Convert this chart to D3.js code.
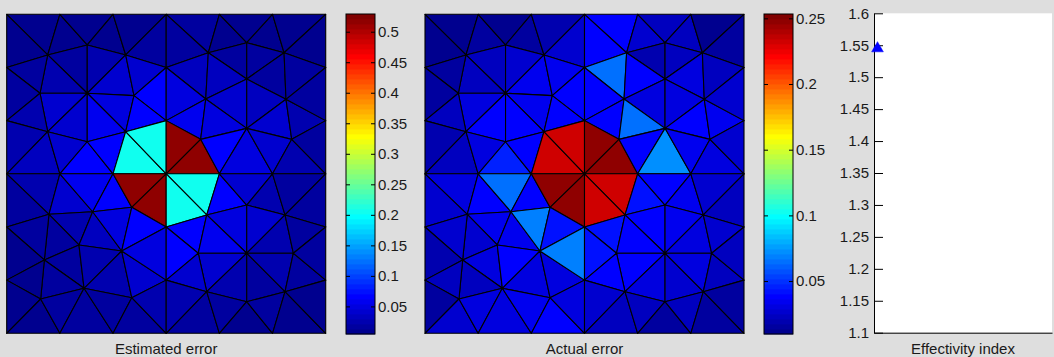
<!DOCTYPE html>
<html>
<head>
<meta charset="utf-8">
<script src="https://cdn.jsdelivr.net/npm/d3@7"></script>
<style>
  html, body { margin: 0; padding: 0; background: #dedede; }
  svg { display: block; }
  text { font-family: "Liberation Sans", Arial, Helvetica, sans-serif; font-size: 15px; fill: #1a1a1a; }
</style>
</head>
<body>
<svg id="fig" width="1054" height="357"></svg>
<script>
// ---- mesh nodes on the square [-1,1] x [-1,1] ----
const nodeX = [
  -1, -2/3, -1/3, 0, 1/3, 2/3, 1,          // 0-6   top edge
  -1, 1, -1, 1,                            // 7-10  side nodes (upper half)
  -1, -2/3, -1/3, 0, 1/3, 2/3, 1,          // 11-17 horizontal mid line
  -1, 1, -1, 1,                            // 18-21 side nodes (lower half)
  -1, -2/3, -1/3, 0, 1/3, 2/3, 1,          // 22-28 bottom edge
  0, 0, 0, 0,                              // 29-32 vertical mid line
  -0.743, -0.495, -0.254, -0.495, -0.791, -0.202, -0.254, -0.743, -0.495,  // 33-41
  0.264, 0.505, 0.739, 0.505, 0.248, 0.751, 0.505, 0.216, 0.787,          // 42-50
  -0.735, -0.461, -0.216, -0.547, -0.279, -0.764, -0.515, -0.787, -0.216, // 51-59
  0.254, 0.505, 0.745, 0.201, 0.505, 0.797, 0.254, 0.505, 0.745           // 60-68
];
const nodeY = [
  1, 1, 1, 1, 1, 1, 1,
  2/3, 2/3, 1/3, 1/3,
  0, 0, 0, 0, 0, 0, 0,
  -1/3, -1/3, -2/3, -2/3,
  -1, -1, -1, -1, -1, -1, -1,
  2/3, 1/3, -1/3, -2/3,
  0.745, 0.808, 0.745, 0.505, 0.505, 0.490, 0.264, 0.264, 0.201,
  0.759, 0.822, 0.759, 0.594, 0.469, 0.467, 0.285, 0.216, 0.216,
  -0.254, -0.238, -0.210, -0.446, -0.484, -0.540, -0.718, -0.785, -0.777,
  -0.258, -0.196, -0.258, -0.498, -0.498, -0.498, -0.739, -0.802, -0.739
];

// ---- triangles (node indices) ----
const triangles = [
  // upper left
  [0,1,33],[0,33,7],[1,33,34],[1,2,34],[2,34,35],[2,3,35],[3,35,29],[33,34,36],
  [34,35,36],[33,36,37],[33,37,7],[35,36,38],[35,38,29],[29,38,30],[36,38,39],[38,39,30],
  [37,7,9],[37,36,40],[37,40,9],[36,40,41],[36,41,39],[40,9,11],[40,11,12],[40,41,12],
  [41,12,13],[41,13,39],[39,13,14],[39,14,30],
  // upper right
  [3,4,42],[3,42,29],[4,42,43],[4,5,43],[5,43,44],[5,6,44],[6,44,8],[42,43,45],
  [43,44,45],[29,42,46],[42,45,46],[44,45,47],[44,47,8],[45,46,48],[45,47,48],[29,46,30],
  [30,46,49],[46,49,48],[47,48,50],[47,50,10],[47,8,10],[30,49,14],[49,14,15],[49,48,15],
  [48,15,16],[48,16,50],[50,16,17],[50,17,10],
  // lower left
  [11,12,51],[11,51,18],[12,51,52],[12,13,52],[13,52,53],[13,53,14],[14,53,31],[51,52,54],
  [52,54,55],[52,53,55],[53,31,55],[51,54,56],[51,56,18],[18,56,20],[56,54,57],[54,55,57],
  [55,57,59],[55,59,32],[55,31,32],[56,57,58],[56,58,20],[20,58,22],[58,22,23],[58,57,23],
  [57,23,24],[57,24,59],[59,24,25],[59,25,32],
  // lower right
  [14,15,60],[14,60,31],[15,60,61],[15,16,61],[16,61,62],[16,17,62],[17,62,19],[31,60,63],
  [60,61,64],[60,63,64],[61,62,64],[62,64,65],[62,65,19],[31,63,32],[63,64,66],[63,66,32],
  [64,66,67],[64,67,68],[64,65,68],[65,68,21],[65,19,21],[32,66,25],[66,25,26],[66,67,26],
  [67,26,27],[67,27,68],[68,27,28],[68,28,21]
];

// ---- element values ----
const estimatedError = [
  0.006,0.006,0.011,0.006,0.011,0.006,0.013,0.019,0.024,0.024,0.013,0.039,0.039,0.064,0.052,0.064,
  0.019,0.044,0.026,0.044,0.058,0.026,0.032,0.044,0.064,0.064,0.205,0.205,
  0.013,0.019,0.006,0.006,0.006,0.006,0.006,0.019,0.013,0.032,0.032,0.019,0.013,0.039,0.032,0.052,
  0.058,0.052,0.039,0.026,0.013,0.52,0.52,0.064,0.052,0.039,0.026,0.019,
  0.026,0.013,0.039,0.058,0.064,0.52,0.52,0.026,0.032,0.052,0.064,0.019,0.013,0.006,0.013,0.026,
  0.026,0.039,0.052,0.013,0.006,0.006,0.006,0.013,0.013,0.019,0.019,0.026,
  0.205,0.205,0.064,0.039,0.026,0.019,0.019,0.064,0.052,0.058,0.039,0.026,0.019,0.064,0.039,0.039,
  0.026,0.019,0.026,0.013,0.013,0.026,0.013,0.013,0.006,0.013,0.006,0.006
];
const actualError = [
  0.013,0.013,0.017,0.013,0.017,0.019,0.027,0.024,0.027,0.024,0.017,0.035,0.033,0.039,0.035,0.037,
  0.017,0.032,0.024,0.037,0.037,0.019,0.024,0.032,0.047,0.039,0.231,0.231,
  0.039,0.040,0.027,0.024,0.024,0.013,0.017,0.019,0.024,0.065,0.037,0.029,0.024,0.032,0.032,0.040,
  0.040,0.065,0.037,0.033,0.027,0.249,0.249,0.040,0.072,0.035,0.032,0.027,
  0.032,0.027,0.037,0.065,0.040,0.249,0.249,0.035,0.035,0.067,0.042,0.027,0.027,0.019,0.029,0.040,
  0.032,0.032,0.067,0.024,0.024,0.017,0.027,0.029,0.032,0.035,0.037,0.029,
  0.231,0.231,0.042,0.039,0.035,0.027,0.024,0.042,0.039,0.039,0.035,0.032,0.027,0.043,0.037,0.037,
  0.029,0.027,0.029,0.024,0.024,0.027,0.024,0.024,0.017,0.024,0.017,0.017
];

// colour limits and colourbar ticks
const estimatedLimits = [0.0048, 0.529];
const actualLimits = [0.0097, 0.2533];
const estimatedTicks = [0.05, 0.1, 0.15, 0.2, 0.25, 0.3, 0.35, 0.4, 0.45, 0.5];
const actualTicks = [0.05, 0.1, 0.15, 0.2, 0.25];

// effectivity index history
const iterations = [1];
const effectivity = [1.545];
const iterationLimits = [0.98, 2];
const effectivityLimits = [1.1, 1.6];
const effectivityTicks = [1.1, 1.15, 1.2, 1.25, 1.3, 1.35, 1.4, 1.45, 1.5, 1.55, 1.6];

// ---- jet colormap with 64 entries ----
function jetPalette(m) {
  const n = Math.ceil(m / 4);
  const u = [];
  for (let k = 1; k <= n; k++) u.push(k / n);
  for (let k = 0; k < n - 1; k++) u.push(1);
  for (let k = n; k >= 1; k--) u.push(k / n);
  const off = Math.ceil(n / 2) - (m % 4 === 1 ? 1 : 0);
  const pick = j => (j >= 1 && j <= u.length) ? u[j - 1] : 0;
  const out = [];
  for (let idx = 1; idx <= m; idx++) {
    const r = pick(idx - off - n), g = pick(idx - off), b = pick(idx - off + n);
    out.push(d3.rgb(r * 255, g * 255, b * 255).formatHex());
  }
  return out;
}
const jet = jetPalette(64);

const svg = d3.select("#fig");
const fmt = d3.format("~g");

function drawMesh(left, values, limits) {
  const x = d3.scaleLinear().domain([-1, 1]).range([left, left + 319]);
  const y = d3.scaleLinear().domain([-1, 1]).range([333.3, 14.3]);
  const color = d3.scaleQuantize().domain(limits).range(jet);
  const line = d3.line().x(i => x(nodeX[i])).y(i => y(nodeY[i]));
  svg.append("g").selectAll("path").data(triangles).join("path")
    .attr("d", t => line(t) + "Z")
    .attr("fill", (t, k) => color(values[k]))
    .attr("stroke", "#000")
    .attr("stroke-width", 1.1)
    .attr("stroke-linejoin", "round");
}

function drawColorbar(left, width, limits, ticks) {
  const y = d3.scaleLinear().domain(limits).range([334, 14]);
  const step = (limits[1] - limits[0]) / jet.length;
  const g = svg.append("g");
  g.selectAll("rect.band").data(jet).join("rect")
    .attr("class", "band")
    .attr("x", left).attr("width", width)
    .attr("y", (c, i) => y(limits[0] + (i + 1) * step))
    .attr("height", (c, i) => y(limits[0] + i * step) - y(limits[0] + (i + 1) * step) + 0.4)
    .attr("fill", c => c);
  g.append("rect").attr("x", left).attr("y", 14).attr("width", width).attr("height", 320)
    .attr("fill", "none").attr("stroke", "#000").attr("stroke-width", 1);
  const right = d3.axisRight(y).tickValues(ticks).tickSize(-4).tickPadding(3).tickFormat(fmt);
  const leftAx = d3.axisLeft(y).tickValues(ticks).tickSize(-4).tickFormat("");
  const ga = g.append("g").attr("transform", `translate(${left + width},0)`).call(right);
  const gb = g.append("g").attr("transform", `translate(${left},0)`).call(leftAx);
  [ga, gb].forEach(a => {
    a.select(".domain").remove();
    a.selectAll("line").attr("stroke", "#000");
    a.selectAll("text").attr("fill", null);
    a.attr("font-family", null).attr("font-size", null);
  });
}

drawMesh(6.7, estimatedError, estimatedLimits);
drawColorbar(346, 29, estimatedLimits, estimatedTicks);
drawMesh(425, actualError, actualLimits);
drawColorbar(764, 29, actualLimits, actualTicks);

// ---- effectivity index axes ----
const axLeft = 874, axRight = 1052, axTop = 13.3, axBottom = 332.7;
const xe = d3.scaleLinear().domain(iterationLimits).range([axLeft, axRight]);
const ye = d3.scaleLinear().domain(effectivityLimits).range([axBottom, axTop]);
svg.append("rect").attr("x", axLeft).attr("y", axTop)
  .attr("width", axRight - axLeft).attr("height", axBottom - axTop).attr("fill", "#fff");
const yAx = svg.append("g").attr("transform", `translate(${axLeft},0)`)
  .call(d3.axisLeft(ye).tickValues(effectivityTicks).tickSize(-9).tickSizeOuter(0).tickPadding(5).tickFormat(fmt));
const xAx = svg.append("g").attr("transform", `translate(0,${axBottom})`)
  .call(d3.axisBottom(xe).tickValues([]).tickSizeOuter(0));
[yAx, xAx].forEach(a => {
  a.selectAll("line, path").attr("stroke", "#000");
  a.selectAll("text").attr("fill", null);
  a.attr("font-family", null).attr("font-size", null);
});
svg.append("g").selectAll("path").data(iterations).join("path")
  .attr("d", d3.symbol(d3.symbolTriangle, 60))
  .attr("transform", (d, i) => `translate(${xe(d)},${ye(effectivity[i])})`)
  .attr("fill", "#0000ff").attr("stroke", "#0000ff").attr("stroke-width", 0.5);

// ---- panel titles ----
const titles = [
  { label: "Estimated error", x: 166.2 },
  { label: "Actual error", x: 584.5 },
  { label: "Effectivity index", x: (axLeft + axRight) / 2 }
];
svg.append("g").selectAll("text").data(titles).join("text")
  .attr("x", d => d.x).attr("y", 354).attr("text-anchor", "middle").text(d => d.label);
</script>
</body>
</html>
